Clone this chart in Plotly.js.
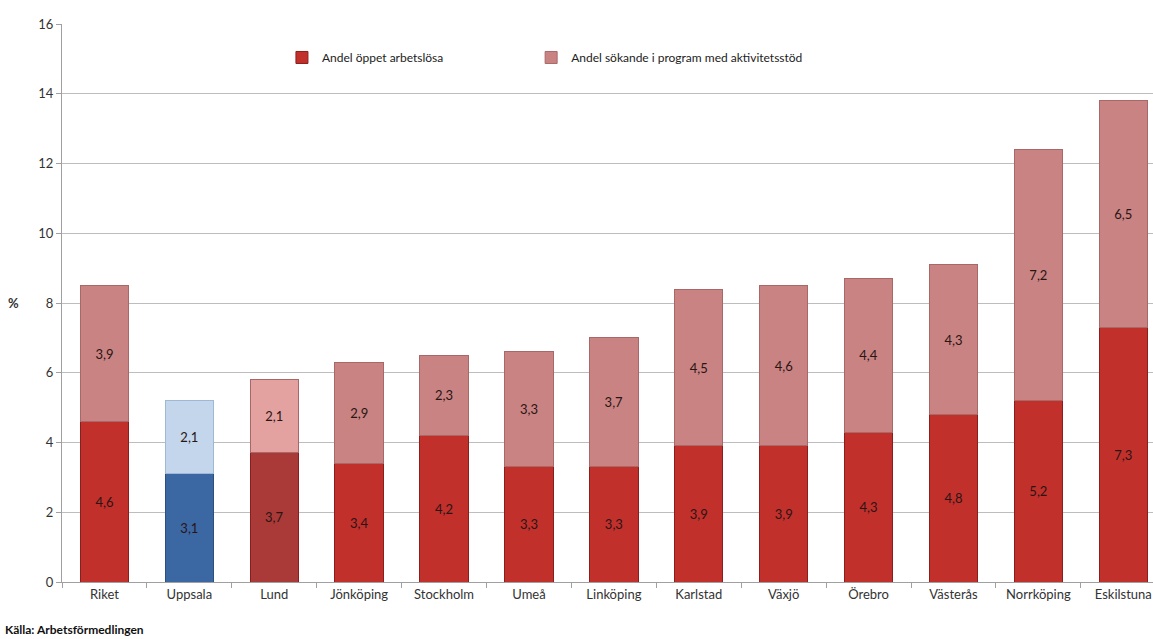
<!DOCTYPE html>
<html><head><meta charset="utf-8">
<script src="https://cdn.plot.ly/plotly-3.0.1.min.js"></script>
<style>html,body{margin:0;padding:0;background:#fff;}#chart{width:1153px;height:639px;}</style>
</head><body><div id="chart"></div>
<script>
const categories = ["Riket","Uppsala","Lund","Jönköping","Stockholm","Umeå","Linköping","Karlstad","Växjö","Örebro","Västerås","Norrköping","Eskilstuna"];
const openUnemployed = [4.6,3.1,3.7,3.4,4.2,3.3,3.3,3.9,3.9,4.3,4.8,5.2,7.3];
const inProgram = [3.9,2.1,2.1,2.9,2.3,3.3,3.7,4.5,4.6,4.4,4.3,7.2,6.5];
const seriesNames = ["Andel öppet arbetslösa","Andel sökande i program med aktivitetsstöd"];

const bottomColors = categories.map(c => c==="Uppsala" ? "#3b67a3" : (c==="Lund" ? "#a93a38" : "#c2302c"));
const topColors = categories.map(c => c==="Uppsala" ? "#c3d6ec" : (c==="Lund" ? "#e3a1a0" : "#c98382"));
const bottomLines = categories.map(c => c==="Uppsala" ? "#2c4f80" : "#8a1e1c");
const topLines = categories.map(c => c==="Uppsala" ? "#9fb8d6" : "#a86868");

const font = "Lato, 'Open Sans', sans-serif";
const common = {type:"bar", x:categories, width:0.57, textposition:"inside", insidetextanchor:"middle",
  texttemplate:"%{y:.1f}", textfont:{family:font,size:13,color:"#2a1515"}, hoverinfo:"skip"};

const traces = [
  Object.assign({}, common, {name:seriesNames[0], y:openUnemployed, legend:"legend",
    marker:{color:bottomColors, line:{color:bottomLines,width:1}}}),
  Object.assign({}, common, {name:seriesNames[1], y:inProgram, legend:"legend2",
    marker:{color:topColors, line:{color:topLines,width:1}}})
];

const legendBase = {orientation:"h", xanchor:"left", y:0.94, yanchor:"middle",
  font:{family:font,size:12,color:"#222"}, bgcolor:"rgba(0,0,0,0)", itemwidth:30};

const layout = {
  width:1153, height:639, barmode:"stack", separators:", ",
  paper_bgcolor:"#fff", plot_bgcolor:"#fff",
  margin:{l:62,r:0,t:24,b:57},
  font:{family:font,size:13,color:"#333"},
  showlegend:true,
  legend:Object.assign({}, legendBase, {x:0.2016}),
  legend2:Object.assign({}, legendBase, {x:0.43}),
  xaxis:{type:"category", range:[-0.5,12.35], showgrid:false, showline:true, linecolor:"#a0a0a0",
    ticks:"outside", tickson:"boundaries", ticklen:5, tickcolor:"#a0a0a0",
    tickfont:{family:font,size:13,color:"#333"}},
  yaxis:{range:[0,16], dtick:2, showgrid:true, gridcolor:"#bdbdbd", gridwidth:1,
    showline:true, linecolor:"#a0a0a0", ticks:"outside", ticklen:5, tickcolor:"#a0a0a0",
    zeroline:false, tickfont:{family:font,size:13,color:"#333"}},
  annotations:[
    {text:"<b>%</b>", xref:"paper", yref:"y", x:-0.044, y:8, xanchor:"center", yanchor:"middle",
     showarrow:false, font:{family:font,size:13,color:"#333"}},
    {text:"<b>Källa: Arbetsförmedlingen</b>", xref:"paper", yref:"paper", x:-0.054, y:-0.086,
     xanchor:"left", yanchor:"middle", showarrow:false, font:{family:font,size:12,color:"#111"}}
  ]
};
Plotly.newPlot("chart", traces, layout, {displayModeBar:false, staticPlot:true});
</script></body></html>
